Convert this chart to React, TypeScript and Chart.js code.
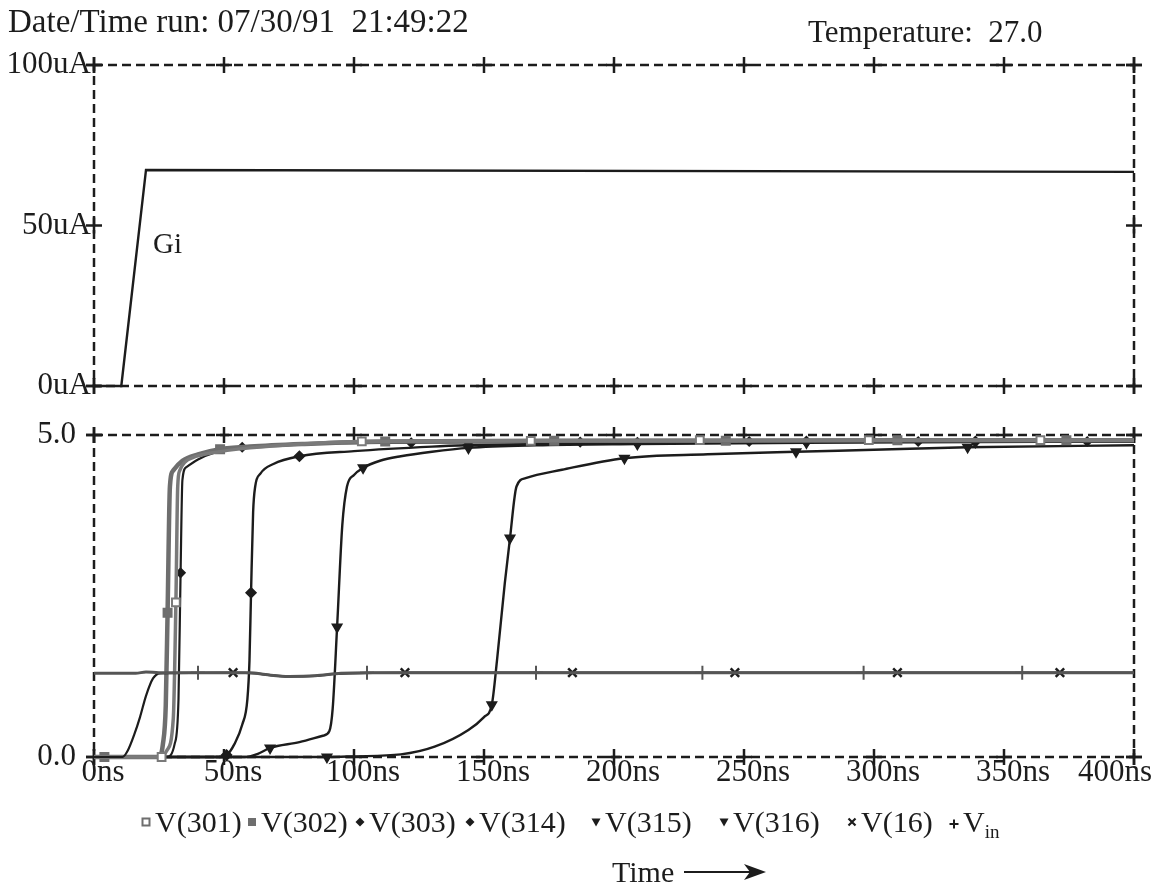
import React, { useEffect, useRef } from "react";
import { Chart, registerables } from "chart.js";

Chart.register(...registerables);

const SERIF = "'Liberation Serif', 'Times New Roman', Times, serif";
const INK = "#1c1c1c";
const GRAY = "#6e6e6e";

// ---- axis ticks ----
const timeTicks = [0, 50, 100, 150, 200, 250, 300, 350, 400]; // ns
const currentTicks = [0, 50, 100]; // uA
const voltTicks = [0, 5]; // V

// ---- top panel: Gi (uA) ----
const giTime = [0, 10.5, 20, 400];
const giCurrent = [0, 0, 67.3, 66.7];

// ---- bottom panel (V) ----
const v301Time = [0, 26, 28, 30.5, 31.5, 32.2, 33, 35, 38, 45, 60, 80, 103, 168, 233, 298, 364, 400];
const v301Volt = [0, 0, 0.1, 0.6, 2.4, 4.2, 4.45, 4.58, 4.65, 4.72, 4.8, 4.86, 4.9, 4.91, 4.92, 4.92, 4.92, 4.92];
const v301Marks = [1, 4, 12, 13, 14, 15, 16];

const v302Time = [0, 4, 25, 26.5, 27.6, 28.3, 29.2, 30.5, 34, 40, 48.5, 60, 80, 112, 177, 243, 309, 374, 400];
const v302Volt = [0, 0, 0, 0.2, 0.8, 2.24, 4.2, 4.45, 4.6, 4.7, 4.78, 4.82, 4.86, 4.9, 4.91, 4.91, 4.92, 4.92, 4.92];
const v302Marks = [1, 5, 10, 13, 14, 15, 16, 17];

const v303Time = [0, 28, 31, 32.5, 33.3, 34, 35.5, 40, 46, 57, 80, 122, 187, 252, 317, 382, 400];
const v303Volt = [0, 0, 0.2, 0.9, 2.86, 4.3, 4.5, 4.62, 4.72, 4.81, 4.86, 4.88, 4.89, 4.9, 4.9, 4.9, 4.9];
const v303Marks = [4, 9, 11, 12, 13, 14, 15];

const v314Time = [0, 48, 51, 54, 57, 59, 59.8, 60.4, 61.2, 62, 64, 69, 79, 100, 130, 144, 170, 209, 274, 339, 400];
const v314Volt = [0, 0, 0.03, 0.2, 0.5, 0.9, 1.5, 2.55, 3.8, 4.2, 4.4, 4.55, 4.67, 4.75, 4.82, 4.84, 4.86, 4.88, 4.9, 4.9, 4.9];
const v314Marks = [2, 7, 12, 15, 17, 18, 19];

const v315Time = [0, 58, 63, 67.7, 79, 88, 90.5, 91.8, 93.5, 95.5, 97.3, 100, 103.5, 110, 118, 130, 144, 170, 209, 274, 339, 400];
const v315Volt = [0, 0, 0.05, 0.14, 0.23, 0.33, 0.4, 0.75, 2.02, 3.6, 4.2, 4.38, 4.49, 4.6, 4.67, 4.74, 4.8, 4.84, 4.86, 4.88, 4.89, 4.9];
const v315Marks = [3, 8, 12, 16, 18, 19, 20];

const v316Time = [0, 89.6, 100, 118, 131, 144, 150, 153, 155, 158, 160, 162.5, 166, 180, 204, 236, 270, 300, 336, 400];
const v316Volt = [0, 0, 0.01, 0.04, 0.16, 0.42, 0.62, 0.81, 1.5, 2.7, 3.4, 4.2, 4.33, 4.46, 4.64, 4.7, 4.74, 4.77, 4.81, 4.84];
const v316Marks = [1, 7, 10, 14, 16, 18];

const v16Time = [0, 11, 13, 15.5, 17.7, 20, 22.7, 25.4, 53.5, 62, 68, 75, 85, 93, 98, 119.6, 184, 246.5, 309, 371.5, 400];
const v16Volt = [0, 0, 0.1, 0.35, 0.62, 0.95, 1.22, 1.3, 1.31, 1.3, 1.27, 1.25, 1.26, 1.29, 1.3, 1.31, 1.31, 1.31, 1.31, 1.31, 1.31];
const v16Marks = [8, 15, 16, 17, 18, 19];

const vinTime = [0, 16, 20, 25, 40, 60, 66, 75, 85, 95, 105, 170, 234, 296, 357, 400];
const vinVolt = [1.3, 1.3, 1.32, 1.31, 1.31, 1.31, 1.28, 1.25, 1.26, 1.3, 1.31, 1.31, 1.31, 1.31, 1.31, 1.31];
const vinMarks = [4, 10, 11, 12, 13, 14];

const legendLabels = ["V(301)", "V(302)", "V(303)", "V(314)", "V(315)", "V(316)", "V(16)", "Vin"];

// ---- styling only ----
const legendX = [140, 246, 354, 464, 590, 718, 846, 948];
const legendMarker = ["openSquare", "square", "diamond", "diamond", "tri", "tri", "x", "plus"];

const pts = (t: number[], v: number[]) => t.map((x, i) => ({ x, y: v[i] }));

function series(
  label: string,
  t: number[],
  v: number[],
  marks: number[],
  s: { color: string; width: number; style: any; radius: number; fill: string; rot?: number; bw?: number; straight?: boolean }
) {
  return {
    label,
    data: pts(t, v),
    borderColor: s.color,
    borderWidth: s.width,
    pointStyle: s.style,
    pointRotation: s.rot || 0,
    pointRadius: (ctx: any) => (marks.includes(ctx.dataIndex) ? s.radius : 0),
    pointHoverRadius: 0,
    pointBackgroundColor: s.fill,
    pointBorderColor: s.color,
    pointBorderWidth: s.bw ?? 1.5,
    cubicInterpolationMode: s.straight ? ("default" as const) : ("monotone" as const),
    tension: 0,
    fill: false,
    clip: 12,
  };
}

function framePlugin(yTicks: number[], drawXLabels: boolean) {
  return {
    id: "frame",
    beforeDatasetsDraw(chart: any) {
      const { ctx, chartArea: a } = chart;
      const x = chart.scales.x;
      const y = chart.scales.y;
      ctx.save();
      ctx.strokeStyle = INK;
      ctx.lineWidth = 2.5;
      ctx.setLineDash([9, 5]);
      ctx.strokeRect(a.left, a.top, a.right - a.left, a.bottom - a.top);
      ctx.setLineDash([]);
      const c = 8;
      const cross = (px: number, py: number) => {
        ctx.beginPath();
        ctx.moveTo(px - c, py);
        ctx.lineTo(px + c, py);
        ctx.moveTo(px, py - c);
        ctx.lineTo(px, py + c);
        ctx.stroke();
      };
      timeTicks.forEach((t) => {
        const px = x.getPixelForValue(t);
        cross(px, a.top);
        cross(px, a.bottom);
      });
      yTicks.forEach((v) => {
        const py = y.getPixelForValue(v);
        cross(a.left, py);
        cross(a.right, py);
      });
      if (drawXLabels) {
        ctx.fillStyle = INK;
        ctx.font = `31px ${SERIF}`;
        ctx.textBaseline = "middle";
        timeTicks.forEach((t, i) => {
          const px = x.getPixelForValue(t);
          const label = `${t}ns`;
          if (i === timeTicks.length - 1) {
            ctx.textAlign = "right";
            ctx.fillText(label, chart.width - 2, a.bottom + 16);
          } else {
            ctx.textAlign = "center";
            ctx.fillText(label, px + 9, a.bottom + 16);
          }
        });
      }
      ctx.restore();
    },
  };
}

function baseOptions(padTop: number, padBottom: number, yMin: number, yMax: number, yTicks: number[], fmt: (v: number) => string, yPad: number) {
  return {
    responsive: false,
    maintainAspectRatio: false,
    animation: false as const,
    events: [],
    layout: { padding: { top: padTop, bottom: padBottom, left: 0, right: 20 } },
    plugins: { legend: { display: false }, tooltip: { enabled: false } },
    scales: {
      x: {
        type: "linear" as const,
        min: 0,
        max: 400,
        afterBuildTicks: (s: any) => {
          s.ticks = timeTicks.map((v) => ({ value: v }));
        },
        ticks: { display: false },
        grid: { display: false },
        border: { display: false },
        afterFit: (s: any) => {
          s.height = 0;
          s.paddingLeft = 0;
          s.paddingRight = 0;
        },
      },
      y: {
        type: "linear" as const,
        min: yMin,
        max: yMax,
        afterBuildTicks: (s: any) => {
          s.ticks = yTicks.map((v) => ({ value: v }));
        },
        ticks: {
          callback: (v: any) => fmt(Number(v)),
          font: { family: SERIF, size: 31 },
          color: INK,
          padding: yPad,
        },
        grid: { display: false },
        border: { display: false },
        afterFit: (s: any) => {
          s.width = 94;
        },
      },
    },
  };
}

function Marker({ kind }: { kind: string }) {
  const common = { width: 12, height: 12, viewBox: "0 0 12 12", style: { marginRight: 3, verticalAlign: "middle" } } as any;
  switch (kind) {
    case "openSquare":
      return (
        <svg {...common}>
          <rect x="2.5" y="2.5" width="7" height="7" fill="#fff" stroke={GRAY} strokeWidth="2" />
        </svg>
      );
    case "square":
      return (
        <svg {...common}>
          <rect x="2" y="2" width="8" height="8" fill={GRAY} />
        </svg>
      );
    case "diamond":
      return (
        <svg {...common}>
          <polygon points="6,1.5 10.5,6 6,10.5 1.5,6" fill={INK} />
        </svg>
      );
    case "tri":
      return (
        <svg {...common}>
          <polygon points="1.5,2.5 10.5,2.5 6,10.5" fill={INK} />
        </svg>
      );
    case "x":
      return (
        <svg {...common}>
          <path d="M2.5 2.5 L9.5 9.5 M9.5 2.5 L2.5 9.5" stroke={INK} strokeWidth="2.2" />
        </svg>
      );
    default:
      return (
        <svg {...common}>
          <path d="M6 1.5 L6 10.5 M1.5 6 L10.5 6" stroke={INK} strokeWidth="2" />
        </svg>
      );
  }
}

export default function App() {
  const topRef = useRef<HTMLCanvasElement>(null);
  const botRef = useRef<HTMLCanvasElement>(null);

  useEffect(() => {
    const top = new Chart(topRef.current!, {
      type: "line",
      data: {
        datasets: [
          series("Gi", giTime, giCurrent, [], { color: INK, width: 2.4, style: "circle", radius: 0, fill: INK, straight: true }),
        ],
      },
      options: baseOptions(65, 888 - 386, 0, 100, currentTicks, (v) => `${v}uA`, -5) as any,
      plugins: [framePlugin(currentTicks, false)],
    });

    const bot = new Chart(botRef.current!, {
      type: "line",
      data: {
        datasets: [
          series(legendLabels[7], vinTime, vinVolt, vinMarks, { color: "#555555", width: 3, style: "cross", radius: 7, fill: INK, bw: 2 }),
          series(legendLabels[6], v16Time, v16Volt, v16Marks, { color: INK, width: 2.2, style: "crossRot", radius: 6, fill: GRAY, bw: 2.5 }),
          series(legendLabels[0], v301Time, v301Volt, v301Marks, { color: "#7a7a7a", width: 3.5, style: "rect", radius: 5.5, fill: "#ffffff", bw: 2 }),
          series(legendLabels[1], v302Time, v302Volt, v302Marks, { color: GRAY, width: 4.5, style: "rect", radius: 6, fill: GRAY }),
          series(legendLabels[2], v303Time, v303Volt, v303Marks, { color: INK, width: 2.2, style: "rectRot", radius: 4.5, fill: INK }),
          series(legendLabels[3], v314Time, v314Volt, v314Marks, { color: INK, width: 2.4, style: "rectRot", radius: 5, fill: INK }),
          series(legendLabels[4], v315Time, v315Volt, v315Marks, { color: INK, width: 2.4, style: "triangle", radius: 5.5, fill: INK, rot: 180 }),
          series(legendLabels[5], v316Time, v316Volt, v316Marks, { color: INK, width: 2.4, style: "triangle", radius: 5.5, fill: INK, rot: 180 }),
        ],
      },
      options: baseOptions(435, 888 - 757, 0, 5, voltTicks, (v) => v.toFixed(1), 10) as any,
      plugins: [framePlugin(voltTicks, true)],
    });

    return () => {
      top.destroy();
      bot.destroy();
    };
  }, []);

  const txt: React.CSSProperties = {
    position: "absolute",
    fontFamily: SERIF,
    color: INK,
    lineHeight: 1,
    whiteSpace: "nowrap",
    margin: 0,
  };

  return (
    <div style={{ position: "absolute", left: 0, top: 0, width: 1154, height: 888, background: "#fff", overflow: "hidden" }}>
      <canvas ref={topRef} width={1154} height={888} style={{ position: "absolute", left: 0, top: 0 }} />
      <canvas ref={botRef} width={1154} height={888} style={{ position: "absolute", left: 0, top: 0 }} />
      <div style={{ ...txt, left: 8, top: 5, fontSize: 33 }}>Date/Time run: 07/30/91&nbsp;&nbsp;21:49:22</div>
      <div style={{ ...txt, left: 808, top: 16, fontSize: 31 }}>Temperature:&nbsp;&nbsp;27.0</div>
      <div style={{ ...txt, left: 153, top: 229, fontSize: 29 }}>Gi</div>
      {legendLabels.map((lab, i) => (
        <div key={lab} style={{ ...txt, left: legendX[i], top: 807, fontSize: 30, display: "flex", alignItems: "center" }}>
          <Marker kind={legendMarker[i]} />
          {lab === "Vin" ? (
            <span>
              V<sub style={{ fontSize: 19, verticalAlign: "-6px" }}>in</sub>
            </span>
          ) : (
            <span>{lab}</span>
          )}
        </div>
      ))}
      <div style={{ ...txt, left: 612, top: 857, fontSize: 30 }}>Time</div>
      <svg width={90} height={24} style={{ position: "absolute", left: 682, top: 860 }}>
        <line x1="2" y1="12" x2="72" y2="12" stroke={INK} strokeWidth="2" />
        <polygon points="62,4 84,12 62,20 68,12" fill={INK} />
      </svg>
    </div>
  );
}
